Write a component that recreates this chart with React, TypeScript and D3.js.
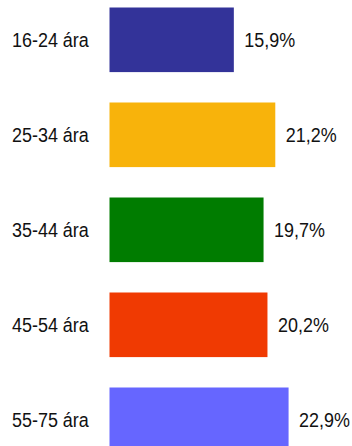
import React from "react";
import * as d3 from "d3";

const categories = ["16-24 ára", "25-34 ára", "35-44 ára", "45-54 ára", "55-75 ára"];
const values = [15.9, 21.2, 19.7, 20.2, 22.9];
const valueLabels = ["15,9%", "21,2%", "19,7%", "20,2%", "22,9%"];
const colors = ["#333399", "#F8B30B", "#007C00", "#F03A02", "#6666FF"];

const W = 352;
const H = 446;

export default function App() {
  const x = d3.scaleLinear().domain([0, 25]).range([109.5, 305]);
  const y = d3
    .scaleBand<string>()
    .domain(categories)
    .range([7.5, 452.1])
    .paddingInner(0.32)
    .paddingOuter(0);
  const bw = y.bandwidth();
  const font = "'Liberation Sans', Arial, Helvetica, sans-serif";
  const sx = 0.93;
  return (
    <div style={{ position: "fixed", left: 0, top: 0, width: W, height: H, overflow: "hidden", background: "#fff" }}>
      <svg width={W} height={H} style={{ display: "block" }}>
        {categories.map((c, i) => {
          const top = y(c)!;
          const cy = top + bw / 2;
          return (
            <g key={c}>
              <rect x={x(0)} y={top} width={x(values[i]) - x(0)} height={bw} fill={colors[i]} />
              <text
                transform={`translate(12,${cy + 7.3}) scale(${sx},1)`}
                fontFamily={font}
                fontSize={19.3}
                fill="#111"
                textAnchor="start"
              >
                {c}
              </text>
              <text
                transform={`translate(${x(values[i]) + 10.5},${cy + 7.3}) scale(${sx},1)`}
                fontFamily={font}
                fontSize={19.3}
                fill="#111"
                textAnchor="start"
              >
                {valueLabels[i]}
              </text>
            </g>
          );
        })}
      </svg>
    </div>
  );
}
